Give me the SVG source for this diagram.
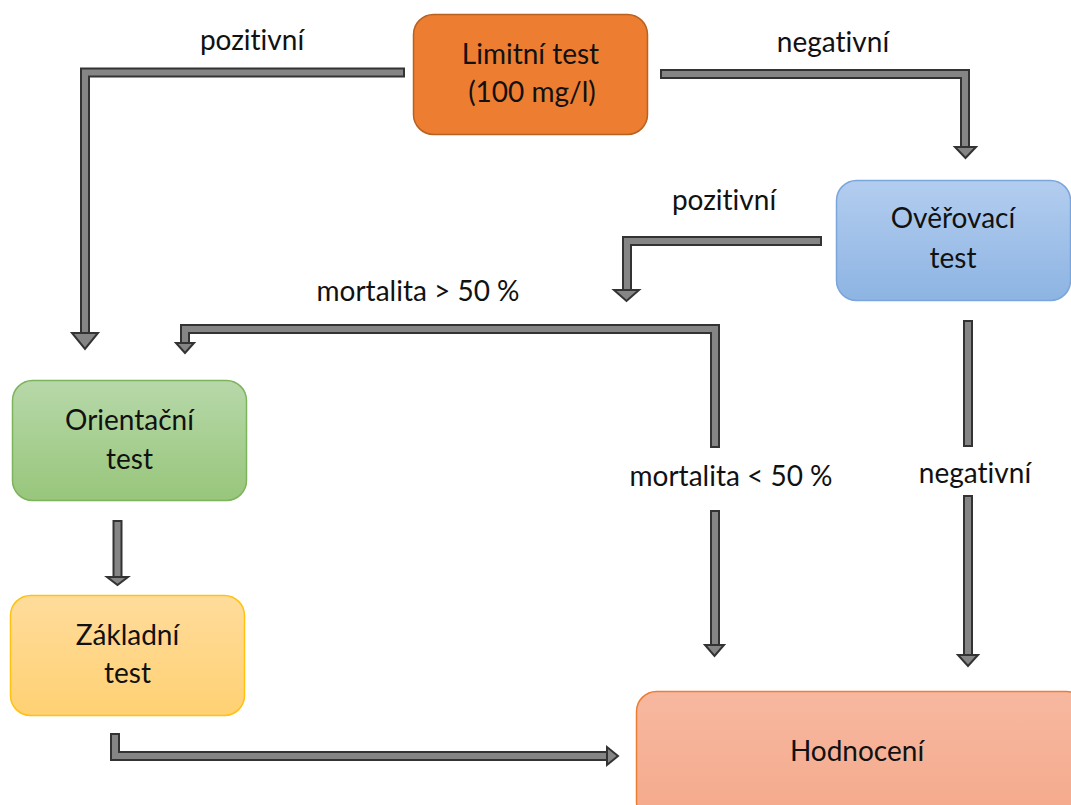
<svg xmlns="http://www.w3.org/2000/svg" width="1071" height="805" viewBox="0 0 1071 805">
<defs>
<linearGradient id="gBlue" x1="0" y1="0" x2="0" y2="1"><stop offset="0" stop-color="#b3cdef"/><stop offset="1" stop-color="#8db4e3"/></linearGradient>
<linearGradient id="gGreen" x1="0" y1="0" x2="0" y2="1"><stop offset="0" stop-color="#b7d8a9"/><stop offset="1" stop-color="#98c67b"/></linearGradient>
<linearGradient id="gYellow" x1="0" y1="0" x2="0" y2="1"><stop offset="0" stop-color="#ffdc9c"/><stop offset="1" stop-color="#ffd173"/></linearGradient>
<linearGradient id="gSalmon" x1="0" y1="0" x2="0" y2="1"><stop offset="0" stop-color="#f7b8a0"/><stop offset="1" stop-color="#f4a98b"/></linearGradient>
</defs>
<style>
.t{font-family:Lato,"Liberation Sans",sans-serif;font-size:28px;fill:#111;text-anchor:middle;font-variant-ligatures:none;font-feature-settings:"liga" 0}
.o{fill:none;stroke:#333;stroke-width:10;stroke-linejoin:miter}
.i{fill:none;stroke:#858585;stroke-width:6;stroke-linejoin:miter}
.h{fill:#858585;stroke:#333;stroke-width:2;stroke-linejoin:miter}
</style>
<rect width="1071" height="805" fill="#fff"/>

<g id="connectors">
<path class="o" d="M405 72.5H85V334"/>
<path class="i" d="M403 72.5H85V334"/>
<polygon class="h" points="72,333 98,333 85,349"/>
<path class="o" d="M660 74H965V148"/>
<path class="i" d="M662 74H965V148"/>
<polygon class="h" points="955,147 976,147 965.5,158"/>
<path class="o" d="M822 241H627V291"/>
<path class="i" d="M820 241H627V291"/>
<polygon class="h" points="614,290 639,290 626.5,301"/>
<path class="o" d="M715 448V329H185V344"/>
<path class="i" d="M715 446V329H185V344"/>
<polygon class="h" points="176,343 194,343 185,353"/>
<path class="o" d="M715 510V646"/>
<path class="i" d="M715 512V646"/>
<polygon class="h" points="705,645 724,645 714.5,656"/>
<path class="o" d="M968 320V447"/>
<path class="i" d="M968 322V445"/>
<path class="o" d="M968 495V656"/>
<path class="i" d="M968 497V656"/>
<polygon class="h" points="958,655 978,655 968,666"/>
<path class="o" d="M117.5 520V578"/>
<path class="i" d="M117.5 522V578"/>
<polygon class="h" points="107,577 128,577 117.5,585"/>
<path class="o" d="M115 733V756H608"/>
<path class="i" d="M115 735V756H608"/>
<polygon class="h" points="607,747 607,765 618,756"/>
</g>

<g id="labels">
<text class="t" x="252" y="50">pozitivní</text>
<text class="t" x="833" y="52">negativní</text>
<text class="t" x="724" y="210">pozitivní</text>
<text class="t" x="418" y="301">mortalita &gt; 50 %</text>
<text class="t" x="731" y="486">mortalita &lt; 50 %</text>
<text class="t" x="975" y="483">negativní</text>
</g>

<g id="limitni">
<rect x="413.5" y="14.5" width="234" height="120" rx="20" fill="#ed7d31" stroke="#b9611f" stroke-width="1.5"/>
<text class="t" x="530.5" y="64">Limitní test</text>
<text class="t" x="532" y="102">(100 mg/l)</text>
</g>
<g id="overovaci">
<rect x="836.5" y="180.5" width="234" height="120" rx="20" fill="url(#gBlue)" stroke="#7aa6dc" stroke-width="1.5"/>
<text class="t" x="953" y="228">Ověřovací</text>
<text class="t" x="953" y="268">test</text>
</g>
<g id="orientacni">
<rect x="12.5" y="380.5" width="234" height="120" rx="20" fill="url(#gGreen)" stroke="#7db35d" stroke-width="1.5"/>
<text class="t" x="129.5" y="430">Orientační</text>
<text class="t" x="129.5" y="469">test</text>
</g>
<g id="zakladni">
<rect x="10.5" y="595.5" width="234" height="120" rx="20" fill="url(#gYellow)" stroke="#ffc20e" stroke-width="1.5"/>
<text class="t" x="127.5" y="645">Základní</text>
<text class="t" x="127.5" y="683">test</text>
</g>
<g id="hodnoceni">
<rect x="636.5" y="691.5" width="450" height="130" rx="20" fill="url(#gSalmon)" stroke="#ed7d31" stroke-width="1.5"/>
<text class="t" x="857" y="761">Hodnocení</text>
</g>
</svg>
